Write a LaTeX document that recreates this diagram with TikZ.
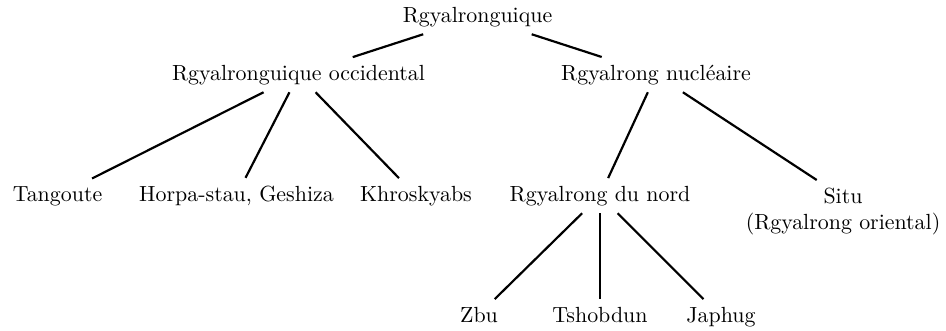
\documentclass[tikz,border=0pt]{standalone}
\usetikzlibrary{calc}
\begin{document}
\begin{tikzpicture}[x=0.4566pt,y=-0.4566pt,
  lbl/.style={anchor=base,inner sep=3.33pt},
  edge/.style={line width=1pt}]
\useasboundingbox (0,0) rectangle (946,330);
\node[lbl] (root) at (477.5,22) {Rgyalronguique};
\node[lbl] (occ) at (298.5,80) {Rgyalronguique occidental};
\node[lbl] (nuc) at (656,80) {Rgyalrong nucléaire};
\node[lbl] (tang) at (57.5,201) {Tangoute};
\node[lbl] (horpa) at (236.5,201) {Horpa-stau, Geshiza};
\node[lbl] (khro) at (416,201) {Khroskyabs};
\node[lbl] (nord) at (600,201) {Rgyalrong du nord};
\node[anchor=north,align=center,inner sep=3.33pt] (situ) at (843,180) {Situ\\(Rgyalrong oriental)};
\node[lbl] (zbu) at (479,322) {Zbu};
\node[lbl] (tsho) at (600,322) {Tshobdun};
\node[lbl] (japh) at (721,322) {Japhug};
\draw[edge] (root) -- (occ);
\draw[edge] (root) -- (nuc);
\draw[edge] (occ) -- (tang);
\draw[edge] (occ) -- (horpa);
\draw[edge] (occ) -- (khro);
\draw[edge] (nuc) -- (nord);
\draw[edge] (nuc) -- ([xshift=-12pt]situ.north);
\draw[edge] (nord) -- (zbu);
\draw[edge] (nord) -- (tsho);
\draw[edge] (nord) -- (japh);
\end{tikzpicture}
\end{document}
